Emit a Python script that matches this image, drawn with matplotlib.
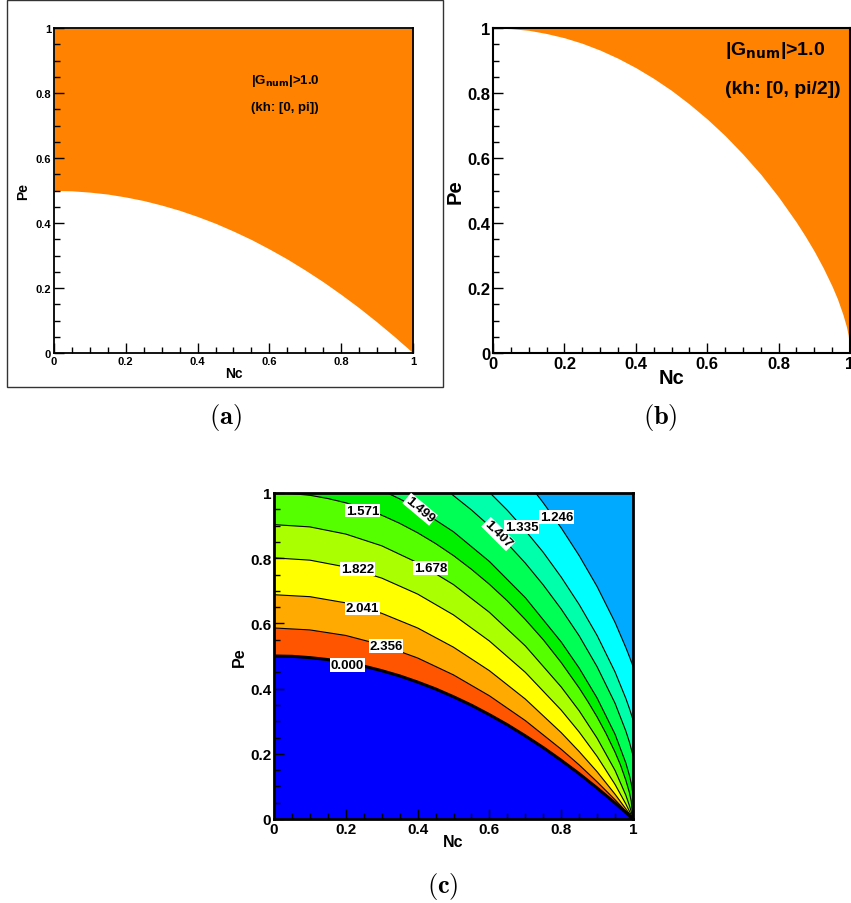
import matplotlib
matplotlib.use('Agg')
import matplotlib.pyplot as plt
from matplotlib.patches import Rectangle
from matplotlib.ticker import MultipleLocator, FuncFormatter

plt.rcParams['font.family'] = ['Liberation Sans', 'DejaVu Sans']
plt.rcParams['font.weight'] = 'bold'
plt.rcParams['mathtext.fontset'] = 'cm'

# ---- data ----
# stability edges of panels (a) and (b), also the 0.000 and 1.571 lines of (c)
nc_fine = [0.0, 0.05, 0.1, 0.15, 0.2, 0.25, 0.3, 0.35, 0.4, 0.45, 0.5, 0.55, 0.6, 0.65,
           0.7, 0.75, 0.8, 0.85, 0.875, 0.9, 0.925, 0.95, 0.965, 0.98, 0.99, 0.995, 1.0]
pe_0000 = [0.500, 0.499, 0.495, 0.489, 0.480, 0.469, 0.455, 0.439, 0.420, 0.399, 0.375, 0.349,
           0.320, 0.289, 0.255, 0.219, 0.180, 0.139, 0.117, 0.095, 0.072, 0.049, 0.034, 0.020,
           0.010, 0.005, 0.0]
pe_1571 = [1.000, 0.998, 0.993, 0.983, 0.970, 0.953, 0.932, 0.907, 0.878, 0.845, 0.808, 0.766,
           0.720, 0.669, 0.612, 0.550, 0.480, 0.402, 0.359, 0.313, 0.262, 0.205, 0.166, 0.119,
           0.081, 0.055, 0.0]

# other lines of (c) that start on the left edge (Nc = 0)
nc_left = [0.0, 0.1, 0.2, 0.3, 0.4, 0.5, 0.6, 0.7, 0.8, 0.85, 0.9, 0.95, 0.98, 0.99, 0.995, 1.0]
pe_2356 = [0.586, 0.580, 0.563, 0.534, 0.494, 0.442, 0.378, 0.302, 0.214, 0.166, 0.114, 0.059, 0.024, 0.012, 0.006, 0.0]
pe_2041 = [0.688, 0.682, 0.663, 0.631, 0.586, 0.527, 0.455, 0.368, 0.265, 0.207, 0.145, 0.076, 0.031, 0.016, 0.008, 0.0]
pe_1822 = [0.801, 0.794, 0.773, 0.739, 0.690, 0.626, 0.546, 0.450, 0.334, 0.267, 0.192, 0.106, 0.046, 0.024, 0.012, 0.0]
pe_1678 = [0.903, 0.896, 0.874, 0.838, 0.786, 0.719, 0.634, 0.531, 0.405, 0.332, 0.248, 0.149, 0.073, 0.041, 0.023, 0.0]

# lines of (c) that start on the top edge (Pe = 1)
nc_1499 = [0.316, 0.35, 0.4, 0.5, 0.6, 0.7, 0.8, 0.85, 0.9, 0.95, 0.98, 0.99, 0.995, 1.0]
pe_1499 = [1.000, 0.982, 0.953, 0.881, 0.790, 0.679, 0.543, 0.463, 0.371, 0.260, 0.172, 0.134, 0.110, 0.077]
nc_1407 = [0.491, 0.5, 0.55, 0.6, 0.65, 0.7, 0.75, 0.8, 0.85, 0.9, 0.95, 0.98, 0.99, 1.0]
pe_1407 = [1.000, 0.992, 0.948, 0.899, 0.845, 0.785, 0.718, 0.644, 0.562, 0.467, 0.355, 0.270, 0.236, 0.195]
nc_1335 = [0.602, 0.65, 0.7, 0.75, 0.8, 0.85, 0.9, 0.95, 0.98, 0.99, 1.0]
pe_1335 = [1.000, 0.947, 0.885, 0.818, 0.742, 0.658, 0.563, 0.451, 0.370, 0.339, 0.305]
nc_1246 = [0.729, 0.75, 0.8, 0.85, 0.9, 0.95, 0.98, 0.99, 1.0]
pe_1246 = [1.000, 0.970, 0.893, 0.808, 0.713, 0.603, 0.526, 0.498, 0.469]

# contour levels (outermost first) and the band colour just inside each line
levels = ['1.246', '1.335', '1.407', '1.499', '1.571', '1.678', '1.822', '2.041', '2.356', '0.000']
curves = [(nc_1246, pe_1246), (nc_1335, pe_1335), (nc_1407, pe_1407), (nc_1499, pe_1499),
          (nc_fine, pe_1571), (nc_left, pe_1678), (nc_left, pe_1822), (nc_left, pe_2041),
          (nc_left, pe_2356), (nc_fine, pe_0000)]
outer_color = '#00aaff'
band_colors = ['#00ffff', '#00ffaa', '#00ff55', '#00f000', '#55ff00', '#aaff00',
               '#ffff00', '#ffaa00', '#ff5500', '#0000ff']

# label positions (Nc, Pe, rotation)
label_pos = {'1.571': (0.247, 0.946, 0), '1.499': (0.407, 0.950, -40),
             '1.407': (0.625, 0.874, -45), '1.335': (0.690, 0.895, 0),
             '1.246': (0.787, 0.927, 0), '1.822': (0.232, 0.767, 0),
             '1.678': (0.436, 0.770, 0), '2.041': (0.247, 0.646, 0),
             '2.356': (0.312, 0.530, 0), '0.000': (0.205, 0.472, 0)}

ORANGE = '#ff8200'

W, H = 851, 904
fig = plt.figure(figsize=(W / 100, H / 100), dpi=100)


def px_axes(x0, y0, x1, y1):
    return fig.add_axes([x0 / W, 1 - y1 / H, (x1 - x0) / W, (y1 - y0) / H])


def style(ax, tick_fs, label_fs, spine_w, xpad, ypad):
    ax.set_xlim(0, 1)
    ax.set_ylim(0, 1)
    fmt = FuncFormatter(lambda v, p: f'{v:g}')
    for axis in (ax.xaxis, ax.yaxis):
        axis.set_major_locator(MultipleLocator(0.2))
        axis.set_minor_locator(MultipleLocator(0.05))
        axis.set_major_formatter(fmt)
    ax.tick_params(which='both', direction='in', top=False, right=False,
                   labelsize=tick_fs, pad=2, width=1)
    ax.tick_params(which='major', length=7)
    ax.tick_params(which='minor', length=4)
    for sp in ax.spines.values():
        sp.set_linewidth(spine_w)
    ax.set_xlabel('Nc', fontsize=label_fs, fontweight='bold', labelpad=xpad)
    ax.set_ylabel('Pe', fontsize=label_fs, fontweight='bold', labelpad=ypad)


# (a)
ax_a = px_axes(54, 29, 413, 354)
ax_a.fill_between(nc_fine, pe_0000, 1, color=ORANGE, lw=0)
style(ax_a, 8, 10, 1.3, 0, 4)
ax_a.text(0.548, 0.841, r'|G$_{\mathbf{num}}$|>1.0', fontsize=9.5, va='center',
          math_fontfamily='dejavusans')
ax_a.text(0.548, 0.757, '(kh: [0, pi])', fontsize=9.5, va='center')
fig.add_artist(Rectangle((7 / W, 1 - 388 / H), 436 / W, 387 / H,
                         transform=fig.transFigure, fill=False, lw=1, ec='#333333'))

# (b)
ax_b = px_axes(493, 29, 850, 354)
ax_b.fill_between(nc_fine, pe_1571, 1, color=ORANGE, lw=0)
style(ax_b, 12, 14.5, 1.5, -2, 2)
ax_b.text(0.65, 0.933, r'|G$_{\mathbf{num}}$|>1.0', fontsize=14, va='center',
          math_fontfamily='dejavusans')
ax_b.text(0.65, 0.813, '(kh: [0, pi/2])', fontsize=14, va='center')

# (c)
ax_c = px_axes(274, 494, 633, 820)
ax_c.set_facecolor(outer_color)
for (nc, pe), col in zip(curves, band_colors):
    ax_c.fill(list(nc) + [1, 0, 0], list(pe) + [0, 0, 1], color=col, lw=0)
for (nc, pe), lev in zip(curves, levels):
    ax_c.plot(nc, pe, color='black', lw=2.2 if lev == '0.000' else 0.8)
for lev, (x, y, rot) in label_pos.items():
    ax_c.text(x, y, lev, fontsize=9.5, ha='center', va='center', rotation=rot,
              bbox=dict(facecolor='white', edgecolor='none', pad=0.6))
style(ax_c, 11, 11.5, 2, -1, 2)

# panel captions
fig.text(225 / W, 1 - 418 / H, r'$\mathbf{(a)}$', fontsize=19, ha='center', va='center')
fig.text(660 / W, 1 - 418 / H, r'$\mathbf{(b)}$', fontsize=19, ha='center', va='center')
fig.text(443 / W, 1 - 887 / H, r'$\mathbf{(c)}$', fontsize=19, ha='center', va='center')

fig.savefig('out.png', dpi=100)
